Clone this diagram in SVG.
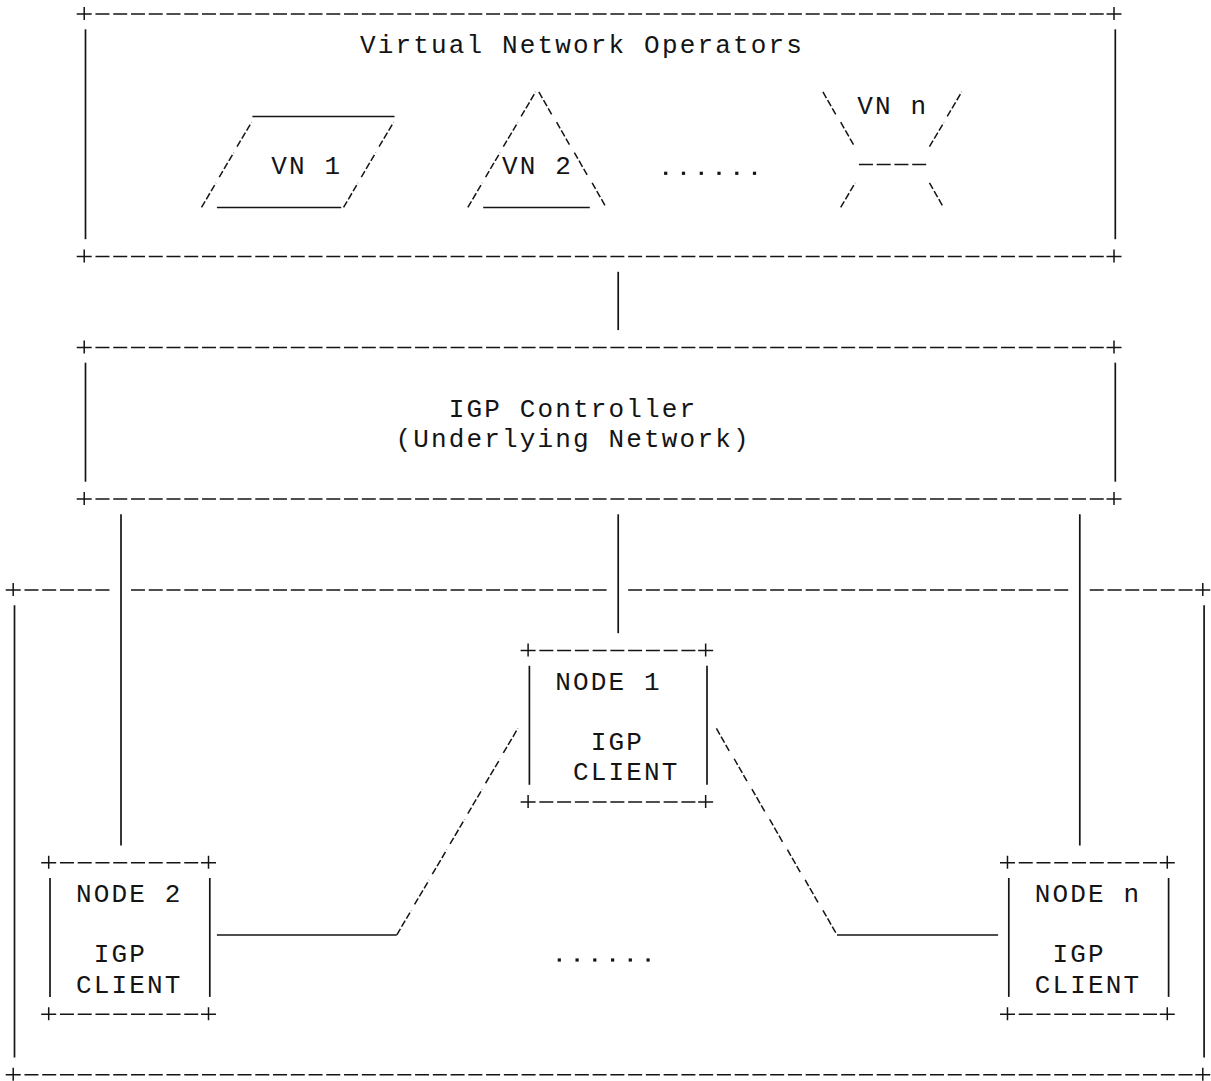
<svg xmlns="http://www.w3.org/2000/svg" xmlns:xlink="http://www.w3.org/1999/xlink" width="1211" height="1081" viewBox="0 0 1211 1081">
<style>
.ln{stroke:#141414;stroke-width:1.5;fill:none}
.v{stroke:#141414;stroke-width:1.7;fill:none}
.dash{stroke-dasharray:14 3.755}
.sl{stroke:#141414;stroke-width:1.5;fill:none;stroke-dasharray:7 2.4}
.t{font-family:"Liberation Mono","DejaVu Sans Mono",monospace;font-size:26px;letter-spacing:2.155px;fill:#141414}
.dot{fill:#141414}
</style>
<defs>
<path id="plus" class="ln" d="M-7 0H8M0.5 -7V6"/>
<path id="fs" class="sl" d="M-6.5 11.5L8 -13"/>
<path id="bs" class="sl" d="M-6.5 -13L7.5 11.5"/>
<rect id="pd" class="dot" x="-1.6" y="-1.6" width="3.2" height="3.2"/>
</defs>
<rect width="1211" height="1081" fill="#fff"/>

<g id="vn-operators">
<line class="ln dash" x1="95.48" y1="14" x2="1103.76" y2="14"/>
<line class="ln dash" x1="95.48" y1="256.48" x2="1103.76" y2="256.48"/>
<use href="#plus" x="83.72" y="14"/><use href="#plus" x="1113.51" y="14"/>
<use href="#plus" x="83.72" y="256.48"/><use href="#plus" x="1113.51" y="256.48"/>
<line class="v" x1="85.5" y1="29.3" x2="85.5" y2="239.2"/>
<line class="v" x1="1115.3" y1="29.3" x2="1115.3" y2="239.2"/>
<text class="t" x="360" y="53.01">Virtual Network Operators</text>
<g class="dot"><use href="#pd" x="665.7" y="173.3"/><use href="#pd" x="683.5" y="173.3"/><use href="#pd" x="701.3" y="173.3"/><use href="#pd" x="719" y="173.3"/><use href="#pd" x="736.8" y="173.3"/><use href="#pd" x="754.5" y="173.3"/></g>
</g>

<g id="vn1">
<line class="ln" x1="252.4" y1="116.6" x2="394.5" y2="116.6"/>
<line class="ln" x1="216.9" y1="207.6" x2="341.2" y2="207.6"/>
<use href="#fs" x="243.52" y="135.24"/><use href="#fs" x="385.56" y="135.24"/>
<use href="#fs" x="225.76" y="165.55"/><use href="#fs" x="367.8" y="165.55"/>
<use href="#fs" x="208.01" y="195.86"/><use href="#fs" x="350.05" y="195.86"/>
<text class="t" x="271.23" y="174.25">VN 1</text>
</g>

<g id="vn2">
<use href="#fs" x="527.6" y="104.93"/><use href="#fs" x="509.84" y="135.24"/>
<use href="#fs" x="492.09" y="165.55"/><use href="#fs" x="474.33" y="195.86"/>
<use href="#bs" x="545.35" y="104.93"/><use href="#bs" x="563.11" y="135.24"/>
<use href="#bs" x="580.86" y="165.55"/><use href="#bs" x="598.62" y="195.86"/>
<line class="ln" x1="483.2" y1="207.6" x2="589.8" y2="207.6"/>
<text class="t" x="502.04" y="174.25">VN 2</text>
</g>

<g id="vnn">
<use href="#bs" x="829.43" y="104.93"/><use href="#bs" x="847.19" y="135.24"/><use href="#bs" x="935.96" y="195.86"/>
<use href="#fs" x="953.72" y="104.93"/><use href="#fs" x="935.96" y="135.24"/><use href="#fs" x="847.19" y="195.86"/>
<line class="ln dash" x1="858.94" y1="164.5" x2="926.21" y2="164.5"/>
<text class="t" x="857.14" y="113.63">VN n</text>
</g>

<g id="igp-controller">
<line class="ln dash" x1="95.48" y1="347.41" x2="1103.76" y2="347.41"/>
<line class="ln dash" x1="95.48" y1="498.96" x2="1103.76" y2="498.96"/>
<use href="#plus" x="83.72" y="347.41"/><use href="#plus" x="1113.51" y="347.41"/>
<use href="#plus" x="83.72" y="498.96"/><use href="#plus" x="1113.51" y="498.96"/>
<line class="v" x1="85.5" y1="362.7" x2="85.5" y2="481.7"/>
<line class="v" x1="1115.3" y1="362.7" x2="1115.3" y2="481.7"/>
<text class="t" x="448.78" y="416.73">IGP Controller</text>
<text class="t" x="395.51" y="447.04">(Underlying Network)</text>
</g>

<g id="underlying-network">
<line class="ln dash" x1="24.46" y1="589.89" x2="109.48" y2="589.89"/>
<line class="ln dash" x1="130.99" y1="589.89" x2="606.62" y2="589.89"/>
<line class="ln dash" x1="628.13" y1="589.89" x2="1068.25" y2="589.89"/>
<line class="ln dash" x1="1089.76" y1="589.89" x2="1192.53" y2="589.89"/>
<line class="ln dash" x1="24.46" y1="1074.85" x2="1192.53" y2="1074.85"/>
<use href="#plus" x="12.7" y="589.89"/><use href="#plus" x="1202.29" y="589.89"/>
<use href="#plus" x="12.7" y="1074.85"/><use href="#plus" x="1202.29" y="1074.85"/>
<line class="v" x1="14.5" y1="605.2" x2="14.5" y2="1057.5"/>
<line class="v" x1="1204.1" y1="605.2" x2="1204.1" y2="1057.5"/>
<g class="dot"><use href="#pd" x="559.3" y="960"/><use href="#pd" x="577.1" y="960"/><use href="#pd" x="594.8" y="960"/><use href="#pd" x="612.6" y="960"/><use href="#pd" x="630.3" y="960"/><use href="#pd" x="648.1" y="960"/></g>
</g>

<g id="node1">
<line class="ln dash" x1="539.35" y1="650.51" x2="695.39" y2="650.51"/>
<line class="ln dash" x1="539.35" y1="802.06" x2="695.39" y2="802.06"/>
<use href="#plus" x="527.6" y="650.51"/><use href="#plus" x="705.15" y="650.51"/>
<use href="#plus" x="527.6" y="802.06"/><use href="#plus" x="705.15" y="802.06"/>
<line class="v" x1="529.4" y1="665.8" x2="529.4" y2="784.8"/>
<line class="v" x1="707" y1="665.8" x2="707" y2="784.8"/>
<text class="t" x="555.31" y="689.52">NODE 1</text>
<text class="t" x="590.82" y="750.14">IGP</text>
<text class="t" x="573.06" y="780.45">CLIENT</text>
</g>

<g id="node2">
<line class="ln dash" x1="59.97" y1="862.68" x2="198.25" y2="862.68"/>
<line class="ln dash" x1="59.97" y1="1014.23" x2="198.25" y2="1014.23"/>
<use href="#plus" x="48.21" y="862.68"/><use href="#plus" x="208.01" y="862.68"/>
<use href="#plus" x="48.21" y="1014.23"/><use href="#plus" x="208.01" y="1014.23"/>
<line class="v" x1="50" y1="878" x2="50" y2="996.9"/>
<line class="v" x1="209.8" y1="878" x2="209.8" y2="996.9"/>
<text class="t" x="75.92" y="901.69">NODE 2</text>
<text class="t" x="93.68" y="962.31">IGP</text>
<text class="t" x="75.92" y="992.62">CLIENT</text>
</g>

<g id="noden">
<line class="ln dash" x1="1018.74" y1="862.68" x2="1157.02" y2="862.68"/>
<line class="ln dash" x1="1018.74" y1="1014.23" x2="1157.02" y2="1014.23"/>
<use href="#plus" x="1006.98" y="862.68"/><use href="#plus" x="1166.78" y="862.68"/>
<use href="#plus" x="1006.98" y="1014.23"/><use href="#plus" x="1166.78" y="1014.23"/>
<line class="v" x1="1008.8" y1="878" x2="1008.8" y2="996.9"/>
<line class="v" x1="1168.6" y1="878" x2="1168.6" y2="996.9"/>
<text class="t" x="1034.69" y="901.69">NODE n</text>
<text class="t" x="1052.45" y="962.31">IGP</text>
<text class="t" x="1034.69" y="992.62">CLIENT</text>
</g>

<g id="connectors">
<line class="v" x1="618.2" y1="271.8" x2="618.2" y2="330.1"/>
<line class="v" x1="121" y1="514.3" x2="121" y2="845.4"/>
<line class="v" x1="618.2" y1="514.3" x2="618.2" y2="633.2"/>
<line class="v" x1="1079.8" y1="514.3" x2="1079.8" y2="845.4"/>
<g id="link-node1-node2">
<use href="#fs" x="509.84" y="741.44"/><use href="#fs" x="492.09" y="771.75"/><use href="#fs" x="474.33" y="802.06"/>
<use href="#fs" x="456.58" y="832.37"/><use href="#fs" x="438.82" y="862.68"/><use href="#fs" x="421.07" y="892.99"/>
<use href="#fs" x="403.31" y="923.3"/>
<line class="ln" x1="216.9" y1="935" x2="396.8" y2="935"/>
</g>
<g id="link-node1-noden">
<use href="#bs" x="722.9" y="741.44"/><use href="#bs" x="740.66" y="771.75"/><use href="#bs" x="758.41" y="802.06"/>
<use href="#bs" x="776.17" y="832.37"/><use href="#bs" x="793.92" y="862.68"/><use href="#bs" x="811.68" y="892.99"/>
<use href="#bs" x="829.43" y="923.3"/>
<line class="ln" x1="837" y1="935" x2="998.1" y2="935"/>
</g>
</g>
</svg>
